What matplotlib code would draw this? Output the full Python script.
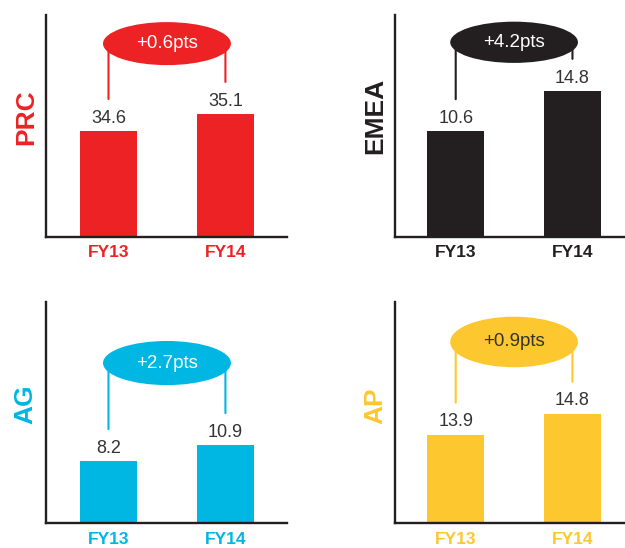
import matplotlib.pyplot as plt
from matplotlib.patches import Ellipse
from matplotlib import transforms

plt.rcParams['font.family'] = ['Liberation Sans', 'DejaVu Sans']

# data
regions = ['PRC', 'EMEA', 'AG', 'AP']
years = ['FY13', 'FY14']
fy13 = [34.6, 10.6, 8.2, 13.9]
fy14 = [35.1, 14.8, 10.9, 14.8]
changes = ['+0.6pts', '+4.2pts', '+2.7pts', '+0.9pts']

# style / layout per panel
colors = ['#ED2224', '#231F20', '#00B6E3', '#FDC72F']
bubble_text = ['white', 'white', 'white', '#333333']
ylims = [(31.5, 38.0), (-0.4, 22.7), (-2.3, 35.1), (10.1, 19.6)]
rects = [[0.0731, 0.568, 0.386, 0.4046], [0.632, 0.568, 0.368, 0.4046],
         [0.0731, 0.045, 0.386, 0.4046], [0.632, 0.045, 0.368, 0.4046]]
xlims = [(-0.537, 1.526), (-0.52, 1.45), (-0.537, 1.526), (-0.52, 1.45)]
bubble_y = [0.871, 0.877, 0.723, 0.818]
bubble_h = [0.194, 0.186, 0.199, 0.228]
label_xy = [(-0.03, 0.538), (-0.035, 0.545), (-0.034, 0.535), (-0.032, 0.53)]

fig = plt.figure(figsize=(6.25, 5.48), dpi=100)

for k in range(4):
    ax = fig.add_axes(rects[k])
    c = colors[k]
    vals = [fy13[k], fy14[k]]
    base = ylims[k][0]
    # bars start at the (non-zero) axis floor, as in the original graphic
    ax.bar([0, 1], [v - base for v in vals], bottom=base, width=0.49, color=c, zorder=2)
    ax.set_xlim(*xlims[k])
    ax.set_ylim(*ylims[k])

    for s in ['top', 'right']:
        ax.spines[s].set_visible(False)
    for s in ['left', 'bottom']:
        ax.spines[s].set_linewidth(1.7)
        ax.spines[s].set_color('#231F20')
        ax.spines[s].set_zorder(4)
    ax.set_yticks([])
    ax.set_xticks([0, 1])
    ax.set_xticklabels(years, fontsize=12.5, fontweight='bold', color=c)
    ax.tick_params(axis='x', length=0, pad=6)
    ax.set_ylabel(regions[k], fontsize=19, fontweight='bold', color=c)
    ax.yaxis.set_label_coords(*label_xy[k])

    # value labels
    for i, v in enumerate(vals):
        ax.annotate(f'{v:.1f}', xy=(i, v), xytext=(0, 3), textcoords='offset points',
                    ha='center', va='bottom', fontsize=13, color='#333333')

    # bubble with connectors
    tr = transforms.blended_transform_factory(ax.transData, ax.transAxes)
    for i, v in enumerate(vals):
        ax.annotate('', xy=(i, v), xycoords='data',
                    xytext=(i, bubble_y[k]), textcoords=('data', 'axes fraction'),
                    arrowprops=dict(arrowstyle='-', color=c, lw=1.5,
                                    shrinkA=0, shrinkB=23), zorder=3)
    ax.add_patch(Ellipse((0.5, bubble_y[k]), 1.094, bubble_h[k], transform=tr,
                         facecolor=c, edgecolor='none', zorder=5, clip_on=False))
    ax.text(0.5, bubble_y[k], changes[k], transform=tr, ha='center', va='center',
            fontsize=13.5, color=bubble_text[k], zorder=6)

fig.savefig('out.png', dpi=100)
